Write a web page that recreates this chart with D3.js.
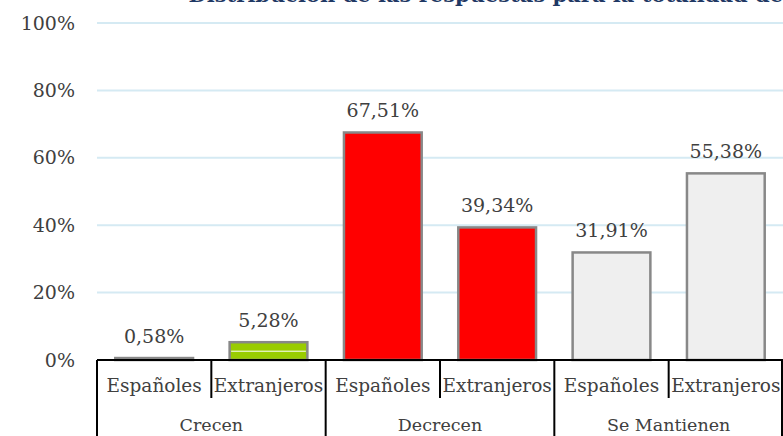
<!DOCTYPE html>
<html><head><meta charset="utf-8">
<script src="https://cdn.jsdelivr.net/npm/d3@7"></script>
<style>html,body{margin:0;padding:0;background:#fff;overflow:hidden}</style>
</head><body>
<svg id="chart" width="783" height="436"></svg>
<script>
const title = "Distribución de las respuestas para la totalidad de la muestra";
const groups = ["Crecen", "Decrecen", "Se Mantienen"];
const subCategories = ["Españoles", "Extranjeros"];
const values = [0.58, 5.28, 67.51, 39.34, 31.91, 55.38];
const barColors = ["#99CC00", "#99CC00", "#FF0000", "#FF0000", "#EFEFEF", "#EFEFEF"];
const yTicks = [0, 20, 40, 60, 80, 100];

const svg = d3.select("#chart");
const font = "'DejaVu Serif', Georgia, serif";
const textColor = "#404040";
const plotLeft = 97, plotRight = 783, plotTop = 23, plotBottom = 360;

const bars = values.map((v, i) => ({
  key: i, value: v,
  group: groups[Math.floor(i / 2)],
  sub: subCategories[i % 2],
  color: barColors[i]
}));

const x = d3.scaleBand().domain(bars.map(d => d.key)).range([plotLeft, plotRight]).paddingInner(0.32).paddingOuter(0.16);
const y = d3.scaleLinear().domain([0, 100]).range([plotBottom, plotTop]);

// title (cropped at the top edge, as in the source image)
const titleText = svg.append("text").attr("y", 2)
  .attr("font-family", font).attr("font-weight", "bold").attr("font-size", 21)
  .attr("fill", "#1F3864").text(title);
const pIndex = title.indexOf("respuestas") + 3;
const prefixW = titleText.node().getSubStringLength(0, pIndex);
titleText.attr("x", 455 - prefixW);

// gridlines
svg.append("g").selectAll("line").data(yTicks.filter(t => t > 0)).join("line")
  .attr("x1", plotLeft).attr("x2", plotRight)
  .attr("y1", d => y(d)).attr("y2", d => y(d))
  .attr("stroke", "#D5EAF3").attr("stroke-width", 2);

// y axis labels
const yAxis = d3.axisLeft(y).tickValues(yTicks).tickFormat(d => d + "%").tickSize(0).tickPadding(0);
const gy = svg.append("g").attr("transform", `translate(75,0)`).call(yAxis);
gy.select(".domain").remove();
gy.selectAll("text").attr("font-family", font).attr("font-size", 19).attr("fill", textColor);

// bars
svg.append("g").selectAll("rect").data(bars).join("rect")
  .attr("x", d => x(d.key)).attr("width", x.bandwidth())
  .attr("y", d => y(d.value)).attr("height", d => y(0) - y(d.value))
  .attr("fill", d => d.color).attr("stroke", "#888888").attr("stroke-width", 2.5);

// white highlight line inside green bar
svg.append("g").selectAll("line").data(bars.filter(d => d.key === 1)).join("line")
  .attr("x1", d => x(d.key) + 1.5).attr("x2", d => x(d.key) + x.bandwidth() - 1.5)
  .attr("y1", d => y(d.value) + 9).attr("y2", d => y(d.value) + 9)
  .attr("stroke", "#ffffff").attr("stroke-width", 1);

// value labels
const fmt = v => v.toFixed(2).replace(".", ",") + "%";
svg.append("g").selectAll("text").data(bars).join("text")
  .attr("x", d => x(d.key) + x.bandwidth() / 2)
  .attr("y", d => y(d.value) - 15)
  .attr("text-anchor", "middle")
  .attr("font-family", font).attr("font-size", 19).attr("fill", textColor)
  .text(d => fmt(d.value));

// category axis (two levels)
const step = x.step();
const slotStart = i => plotLeft + i * step;
const ax = svg.append("g");
ax.append("line").attr("x1", plotLeft).attr("x2", plotRight).attr("y1", plotBottom).attr("y2", plotBottom)
  .attr("stroke", "#000").attr("stroke-width", 2);
ax.selectAll(".sub").data([1, 3, 5]).join("line").attr("class", "sub")
  .attr("x1", d => slotStart(d)).attr("x2", d => slotStart(d))
  .attr("y1", plotBottom).attr("y2", 398).attr("stroke", "#000").attr("stroke-width", 2);
ax.selectAll(".grp").data([0, 2, 4, 6]).join("line").attr("class", "grp")
  .attr("x1", d => Math.min(slotStart(d), 782)).attr("x2", d => Math.min(slotStart(d), 782))
  .attr("y1", plotBottom).attr("y2", 436).attr("stroke", "#000").attr("stroke-width", 2);
ax.selectAll(".sublab").data(bars).join("text").attr("class", "sublab")
  .attr("x", d => slotStart(d.key) + step / 2).attr("y", 392)
  .attr("text-anchor", "middle").attr("font-family", font).attr("font-size", 18.5).attr("fill", textColor)
  .text(d => d.sub);
ax.selectAll(".grplab").data(groups).join("text").attr("class", "grplab")
  .attr("x", (d, i) => slotStart(2 * i) + step).attr("y", 431)
  .attr("text-anchor", "middle").attr("font-family", font).attr("font-size", 17.5).attr("fill", textColor)
  .text(d => d);
</script>
</body></html>
